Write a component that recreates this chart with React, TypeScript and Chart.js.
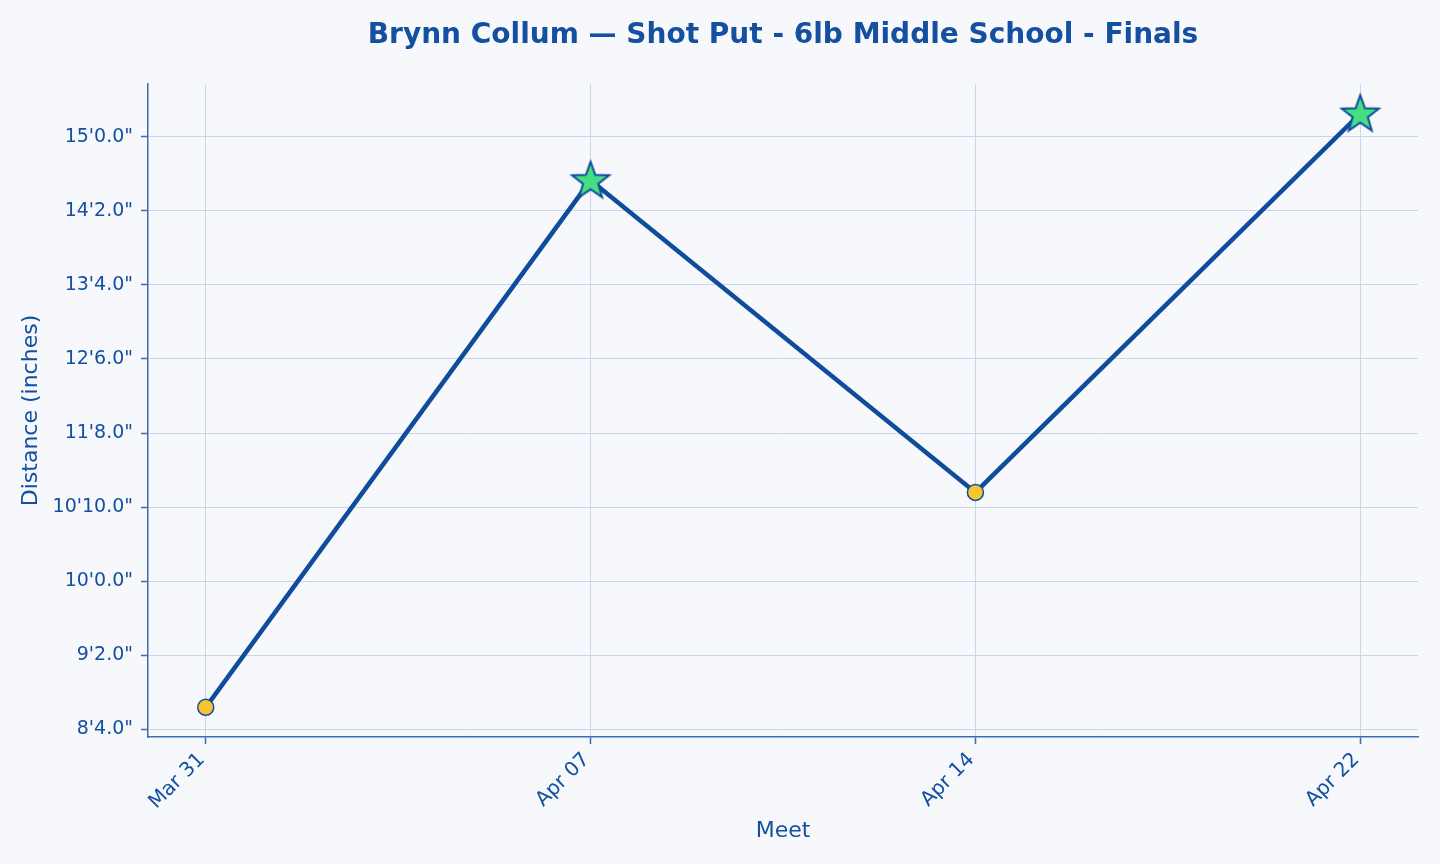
import React, { useEffect, useRef } from "react";
import { Chart, registerables } from "chart.js";

Chart.register(...registerables);

const meetLabels = ["Mar 31", "Apr 07", "Apr 14", "Apr 22"];
const distances = [103.0, 174.1, 132.0, 183.1];
const isBest = [false, true, false, true];
const yTickValues = [100, 110, 120, 130, 140, 150, 160, 170, 180];

const TITLE = "Brynn Collum — Shot Put - 6lb Middle School - Finals";
const TEXT = "#1450a0";
const LINE = "#0f4c9c";
const GRID = "#c8d5ea";
const SPINE = "#3a6cb0";
const BG = "#f7f8fb";
const FONT = "'DejaVu Sans', sans-serif";

function fmtFeet(v: number): string {
  const ft = Math.floor(v / 12 + 1e-9);
  const inch = v - ft * 12;
  return `${ft}'${inch.toFixed(1)}"`;
}

function makeStar(): HTMLCanvasElement {
  const size = 48;
  const c = document.createElement("canvas");
  c.width = size;
  c.height = size;
  const ctx = c.getContext("2d")!;
  const cx = size / 2, cy = size / 2 + 1;
  const R = 19.5, r = 8;
  ctx.beginPath();
  for (let i = 0; i < 10; i++) {
    const rad = i % 2 === 0 ? R : r;
    const a = -Math.PI / 2 + (i * Math.PI) / 5;
    const x = cx + rad * Math.cos(a);
    const y = cy + rad * Math.sin(a);
    if (i === 0) ctx.moveTo(x, y);
    else ctx.lineTo(x, y);
  }
  ctx.closePath();
  ctx.fillStyle = "#45de80";
  ctx.fill();
  ctx.lineWidth = 2;
  ctx.lineJoin = "miter";
  ctx.strokeStyle = LINE;
  ctx.stroke();
  return c;
}

const textPlugin = {
  id: "texts",
  afterDraw(chart: any) {
    const ctx = chart.ctx;
    const a = chart.chartArea;
    const cx = (a.left + a.right) / 2;
    ctx.save();
    ctx.fillStyle = TEXT;
    ctx.textAlign = "center";
    ctx.textBaseline = "middle";
    ctx.font = `bold 28px ${FONT}`;
    ctx.fillText(TITLE, cx, 36);
    ctx.font = `22px ${FONT}`;
    ctx.fillText("Meet", cx, 831);
    ctx.translate(31, (a.top + a.bottom) / 2);
    ctx.rotate(-Math.PI / 2);
    ctx.fillText("Distance (inches)", 0, 0);
    ctx.restore();
  },
};

export default function App() {
  const ref = useRef<HTMLCanvasElement | null>(null);
  useEffect(() => {
    if (!ref.current) return;
    const star = makeStar();
    const styles = isBest.map((b) => (b ? star : "circle"));
    const chart = new Chart(ref.current, {
      type: "line",
      data: {
        datasets: [
          {
            data: distances.map((d, i) => ({ x: i, y: d })),
            borderColor: LINE,
            borderWidth: 4.5,
            pointStyle: styles as any,
            pointRadius: 8,
            pointBackgroundColor: "#f7c531",
            pointBorderColor: LINE,
            pointBorderWidth: 1.5,
            tension: 0,
          },
        ],
      },
      options: {
        animation: false,
        responsive: false,
        layout: { padding: { top: 84, right: 22, left: 0, bottom: 0 } },
        plugins: { legend: { display: false }, title: { display: false }, tooltip: { enabled: false } },
        scales: {
          x: {
            type: "linear",
            min: -0.15,
            max: 3.15,
            afterBuildTicks: (s: any) => {
              s.ticks = meetLabels.map((_, i) => ({ value: i }));
            },
            afterFit: (s: any) => {
              s.height = 127;
            },
            grid: { color: GRID, lineWidth: 1, tickColor: SPINE, tickLength: 7, tickWidth: 1.5 },
            border: { color: SPINE, width: 1.5 },
            ticks: {
              color: TEXT,
              font: { family: FONT, size: 20 },
              maxRotation: 45,
              minRotation: 45,
              padding: 4,
              labelOffset: -4,
              autoSkip: false,
              callback: (v: any) => meetLabels[Math.round(Number(v))] ?? "",
            },
          },
          y: {
            type: "linear",
            min: 98.995,
            max: 187.1,
            afterBuildTicks: (s: any) => {
              s.ticks = yTickValues.map((v) => ({ value: v }));
            },
            afterFit: (s: any) => {
              s.width = 148;
            },
            grid: { color: GRID, lineWidth: 1, tickColor: SPINE, tickLength: 7, tickWidth: 1.5 },
            border: { color: SPINE, width: 1.5 },
            ticks: {
              color: TEXT,
              font: { family: FONT, size: 19 },
              padding: 8,
              callback: (v: any) => fmtFeet(Number(v)),
            },
          },
        },
      },
      plugins: [textPlugin],
    } as any);
    return () => chart.destroy();
  }, []);
  return (
    <div style={{ position: "absolute", left: 0, top: 0, width: 1440, height: 864, background: BG }}>
      <canvas ref={ref} width={1440} height={864} />
    </div>
  );
}
